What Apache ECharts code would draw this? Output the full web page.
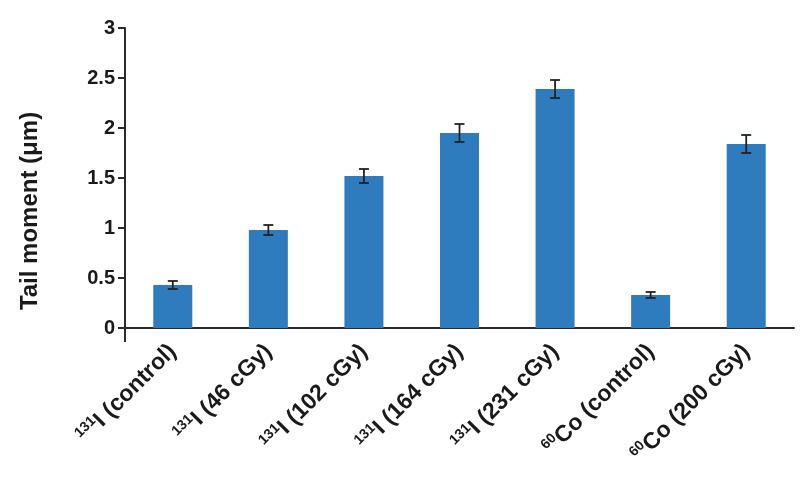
<!DOCTYPE html>
<html>
<head>
<meta charset="utf-8">
<script src="https://cdn.jsdelivr.net/npm/echarts@6/dist/echarts.min.js"></script>
<style>html,body{margin:0;padding:0;background:#fff;}#c{width:800px;height:480px;}</style>
</head>
<body>
<div id="c"></div>
<script>
var isotopes = ['131', '131', '131', '131', '131', '60', '60'];
var names = ['I (control)', 'I (46 cGy)', 'I (102 cGy)', 'I (164 cGy)', 'I (231 cGy)', 'Co (control)', 'Co (200 cGy)'];
var categories = names.map(function (n, i) { return isotopes[i] + n; });
var values = [0.43, 0.98, 1.52, 1.95, 2.39, 0.33, 1.84];
var errors = [0.04, 0.05, 0.07, 0.09, 0.09, 0.03, 0.09];
var yTicks = { min: 0, max: 3, interval: 0.5 };

var errData = values.map(function (v, i) { return [i, v - errors[i], v + errors[i]]; });
var font = 'Liberation Sans, Arial, Helvetica, sans-serif';

var chart = echarts.init(document.getElementById('c'));
chart.setOption({
  animation: false,
  backgroundColor: '#fff',
  grid: { left: 125, right: 6, top: 28, bottom: 152 },
  xAxis: {
    type: 'category',
    data: categories,
    axisLine: { lineStyle: { color: '#2b2b2b', width: 2 } },
    axisTick: { show: false },
    axisLabel: {
      rotate: 45,
      margin: 20,
      interval: 0,
      formatter: function (v, i) { return '{sup|' + isotopes[i] + '}{b|' + names[i] + '}'; },
      rich: {
        sup: { fontFamily: font, fontWeight: 'bold', fontSize: 14, color: '#1a1a1a', verticalAlign: 'top', lineHeight: 26 },
        b: { fontFamily: font, fontWeight: 'bold', fontSize: 23, color: '#1a1a1a', lineHeight: 26 }
      }
    }
  },
  yAxis: {
    type: 'value',
    min: yTicks.min, max: yTicks.max, interval: yTicks.interval,
    name: 'Tail moment (μm)',
    nameLocation: 'middle',
    nameGap: 83,
    nameTextStyle: { fontFamily: font, fontWeight: 'bold', fontSize: 24, color: '#1a1a1a', padding: [0, 66, 0, 0] },
    axisLine: { show: true, lineStyle: { color: '#2b2b2b', width: 2 } },
    axisTick: { show: true, length: 7, lineStyle: { color: '#2b2b2b', width: 2 } },
    axisLabel: { fontFamily: font, fontWeight: 'bold', fontSize: 20, color: '#1a1a1a', margin: 10 },
    splitLine: { show: false }
  },
  graphic: [
    { type: 'line', shape: { x1: 125, y1: 328, x2: 125, y2: 342 }, style: { stroke: '#2b2b2b', lineWidth: 2 } }
  ],
  series: [
    {
      type: 'bar',
      data: values,
      barWidth: 39,
      itemStyle: { color: '#2e7bbd' }
    },
    {
      type: 'custom',
      data: errData,
      z: 10,
      renderItem: function (params, api) {
        var x = api.value(0);
        var lo = api.coord([x, api.value(1)]);
        var hi = api.coord([x, api.value(2)]);
        var w = 5;
        var st = { stroke: '#222', lineWidth: 1.8 };
        return {
          type: 'group',
          children: [
            { type: 'line', shape: { x1: lo[0], y1: lo[1], x2: hi[0], y2: hi[1] }, style: st },
            { type: 'line', shape: { x1: lo[0] - w, y1: lo[1], x2: lo[0] + w, y2: lo[1] }, style: st },
            { type: 'line', shape: { x1: hi[0] - w, y1: hi[1], x2: hi[0] + w, y2: hi[1] }, style: st }
          ]
        };
      }
    }
  ]
});
</script>
</body>
</html>
